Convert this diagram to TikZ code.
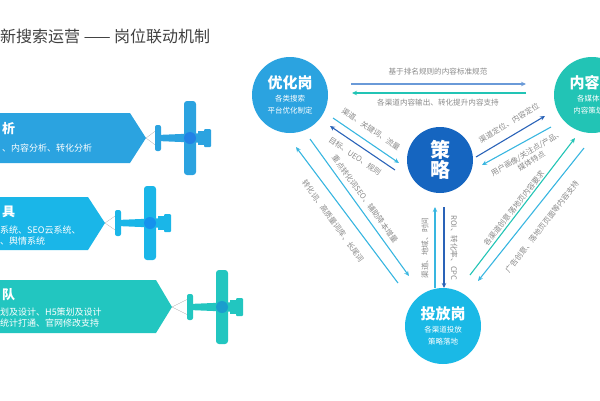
\documentclass[tikz,border=0pt]{standalone}
\usepackage{fontspec}
\setmainfont{Noto Sans CJK SC}
\usetikzlibrary{arrows.meta}
\definecolor{cA}{HTML}{2BA3E0}
\definecolor{cB}{HTML}{1AB6E8}
\definecolor{cC}{HTML}{22C6C0}
\definecolor{cD}{HTML}{1565C0}
\definecolor{cE}{HTML}{1AB9E6}
\definecolor{cT}{HTML}{22C4B5}
\definecolor{lbl}{HTML}{8A8A8A}
\definecolor{la}{HTML}{38B6E0}
\definecolor{da}{HTML}{2A63B8}
\definecolor{ga}{HTML}{6A9AD8}
\begin{document}
\begin{tikzpicture}[x=1pt,y=-1pt,
 circ/.style={circle,fill=#1,text=white,align=center,inner sep=0pt},
 lab/.style={text=lbl,font=\fontsize{7.6}{9}\selectfont,inner sep=1pt},
 arr/.style={draw=#1,line width=1.1pt,-{Stealth[length=5pt,width=4.5pt]}},
 bt/.style={text=white,anchor=west,inner sep=0pt,font=\bfseries\fontsize{13}{14}\selectfont},
 bs/.style={text=white,anchor=west,inner sep=0pt,font=\fontsize{9}{11}\selectfont,align=left}]
\useasboundingbox (0,0) rectangle (600,400);
\node[anchor=west,inner sep=0pt,text=black!75,font=\fontsize{16}{18}\selectfont] (title) at (0,36) {新搜索运营 —— 岗位联动机制};
% banners
\fill[cA] (0,113) -- (130,113) -- (146,138) -- (130,163) -- (0,163) -- cycle;
\coordinate (t1) at (146,138);
\node[bt] (b1t) at (2,129) {析};
\node[bs] (b1s) at (2,148) {、内容分析、转化分析};
\fill[cB] (0,197) -- (88,197) -- (105,223) -- (88,250) -- (0,250) -- cycle;
\coordinate (t2) at (105,223);
\node[bt] (b2t) at (2,212) {具};
\node[bs] (b2s) at (0,236) {系统、SEO云系统、\\、舆情系统};
\fill[cC] (0,280) -- (156,280) -- (172,307) -- (156,333) -- (0,333) -- cycle;
\coordinate (t3) at (172,307);
\node[bt] (b3t) at (2,295) {队};
\node[bs] (b3s) at (0,318) {划及设计、H5策划及设计\\统计打通、官网修改支持};
% planes
\foreach \px/\py/\c/\t in {190/138/cA/t1, 150/223/cB/t2, 222/307/cC/t3}{
 \begin{scope}[shift={(\px,\py)}]
  \draw[black!30,line width=0.3pt] (\t) -- (-32,-9) (\t) -- (-32,9);
  \fill[\c] (-33,-3) -- (15,-5) -- (15,5) -- (-33,3) -- cycle;
  \fill[\c,rounded corners=2pt] (-35,-13) rectangle (-29,13);
  \fill[\c,rounded corners=3pt] (-6,-37) rectangle (6,37);
  \fill[\c,rounded corners=1pt] (14,-9) rectangle (21,9);
  \fill[\c] (8,-7) rectangle (14,7);
  \fill[\c!80!blue] (0,0) circle (6);
 \end{scope}}
% circles
\node[circ=cA,minimum size=76pt] (opt) at (290,95) {\bfseries\fontsize{15}{18}\selectfont 优化岗\\[1pt]\fontsize{7.5}{9}\selectfont 各类搜索\\\fontsize{7.5}{9}\selectfont 平台优化制定};
\node[circ=cT,minimum size=76pt] (con) at (592,95) {\bfseries\fontsize{15}{18}\selectfont 内容岗\\[1pt]\fontsize{7.5}{9}\selectfont 各媒体渠\\\fontsize{7.5}{9}\selectfont 内容策划转};
\node[circ=cD,minimum size=66pt] (str) at (440,160) {\bfseries\fontsize{20}{25}\selectfont 策\\\bfseries\fontsize{20}{25}\selectfont 略};
\node[circ=cE,minimum size=76pt] (tou) at (443,326) {\bfseries\fontsize{15}{18}\selectfont 投放岗\\[1pt]\fontsize{7.5}{9}\selectfont 各渠道投放\\\fontsize{7.5}{9}\selectfont 策略落地};
% top arrows
\coordinate (a1) at (351,84); \coordinate (a2) at (526,84);
\coordinate (a3) at (526,93); \coordinate (a4) at (352,93);
\draw[arr=ga] (a1) -- (a2);
\draw[arr=cT] (a3) -- (a4);
\node[lab] (l1) at (438,72) {基于排名规则的内容标准规范};
\node[lab] (l2) at (438,103) {各渠道内容输出、转化提升内容支持};
% opt - str
\coordinate (b1) at (333,118); \coordinate (b2) at (399,163);
\coordinate (b3) at (395,170); \coordinate (b4) at (330,126);
\draw[arr=la] (b1) -- (b2);
\draw[arr=da] (b3) -- (b4);
\node[lab,rotate=-34] (l3) at (371,129) {渠道、关键词、流量};
\node[lab,rotate=-34] (l4) at (355,156) {目标、UEO、规则};
% str - con
\coordinate (c1) at (476,157); \coordinate (c2) at (545,116);
\coordinate (c3) at (551,127); \coordinate (c4) at (482,165);
\draw[arr=da] (c1) -- (c2);
\draw[arr=la] (c3) -- (c4);
\node[lab,rotate=31] (l5) at (509,123) {渠道定位、内容定位};
\node[lab,rotate=31,align=center,font=\fontsize{7.6}{9}\selectfont] (l6) at (529,157) {用户画像/关注点/产品、\\媒体特点};
% opt - tou
\coordinate (d1) at (398,283); \coordinate (d2) at (296,147);
\coordinate (d3) at (310,139); \coordinate (d4) at (409,276);
\draw[arr=la] (d1) -- (d2);
\draw[arr=la] (d3) -- (d4);
\node[lab,rotate=-54] (l7) at (333,221) {转化词、高质量词库、长尾词};
\node[lab,rotate=-54] (l8) at (365,199) {重点转化词SEO、辅助降本增量};
% str - tou
\coordinate (e1) at (435,288); \coordinate (e2) at (435,207);
\coordinate (e3) at (444,207); \coordinate (e4) at (444,288);
\draw[arr=la] (e1) -- (e2);
\draw[arr=da] (e3) -- (e4);
\node[lab,rotate=90] (l9) at (425,248) {渠道、地域、时间};
\node[lab,rotate=-90] (l10) at (454,248) {ROI、转化率、CPC};
% con - tou
\coordinate (f1) at (470,275); \coordinate (f2) at (575,138);
\coordinate (f3) at (584,148); \coordinate (f4) at (478,281);
\draw[arr=cT] (f1) -- (f2);
\draw[arr=la] (f3) -- (f4);
\node[lab,rotate=52] (l11) at (514,208) {各渠道创意 落地页内容要求};
\node[lab,rotate=52] (l12) at (542,227) {广告创意、落地页页面等内容支持};
\end{tikzpicture}
\end{document}
